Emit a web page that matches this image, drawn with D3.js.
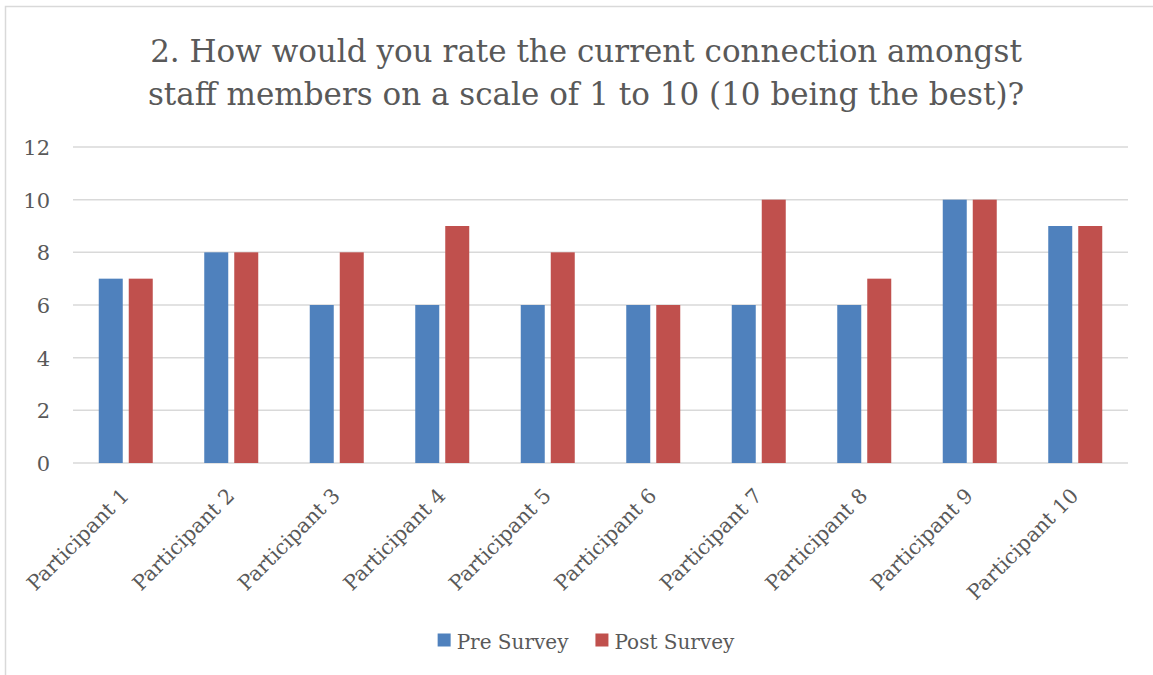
<!DOCTYPE html>
<html>
<head>
<meta charset="utf-8">
<script src="https://cdn.jsdelivr.net/npm/d3@7"></script>
<style>
  html, body { margin: 0; padding: 0; background: #fff; }
  svg { display: block; }
  text { font-family: "DejaVu Serif", "Liberation Serif", serif; fill: #595959; }
</style>
</head>
<body>
<svg id="chart" width="1153" height="675"></svg>
<script>
// Survey responses, one value per participant
const participants = ["Participant 1", "Participant 2", "Participant 3", "Participant 4", "Participant 5",
                      "Participant 6", "Participant 7", "Participant 8", "Participant 9", "Participant 10"];
const seriesNames = ["Pre Survey", "Post Survey"];
const preSurvey  = [7, 8, 6, 6, 6, 6, 6, 6, 10, 9];
const postSurvey = [7, 8, 8, 9, 8, 6, 10, 7, 10, 9];
const yTicks = [0, 2, 4, 6, 8, 10, 12];
const titleLines = ["2. How would you rate the current connection amongst",
                    "staff members on a scale of 1 to 10 (10 being the best)?"];
const colors = ["#4F81BD", "#C0504D"];

const svg = d3.select("#chart");
const cx = 586;
const margin = { left: 73, right: 1128, top: 147, bottom: 463 };

// chart frame
svg.append("rect")
  .attr("x", 5.5).attr("y", 6.5)
  .attr("width", 1170).attr("height", 690)
  .attr("fill", "#fff").attr("stroke", "#d9d9d9").attr("stroke-width", 1.5);

// title, sized so the first line spans its intended width
const title = svg.append("g");
const titleEls = titleLines.map((t, i) =>
  title.append("text")
    .attr("x", cx).attr("y", 62 + i * 43)
    .attr("text-anchor", "middle")
    .style("font-size", "30px")
    .text(t));
const w0 = titleEls[0].node().getComputedTextLength();
const titleSize = 30 * 872 / w0;
titleEls.forEach(e => e.style("font-size", titleSize + "px"));

// scales
const x0 = d3.scaleBand().domain(participants).range([margin.left, margin.right]).padding(0);
const x1 = d3.scaleBand().domain(seriesNames).range([-27, 27]).paddingInner(0.2).paddingOuter(0);
const y = d3.scaleLinear().domain([0, 12]).range([margin.bottom, margin.top]);

// gridlines
svg.append("g")
  .selectAll("line")
  .data(yTicks)
  .join("line")
  .attr("x1", margin.left).attr("x2", margin.right)
  .attr("y1", d => y(d)).attr("y2", d => y(d))
  .attr("stroke", "#d9d9d9").attr("stroke-width", 1.5);

// y axis labels
const yAxis = svg.append("g")
  .attr("transform", `translate(50,0)`)
  .call(d3.axisLeft(y).tickValues(yTicks).tickSize(0).tickPadding(0));
yAxis.select(".domain").remove();
yAxis.selectAll("text")
  .attr("dy", "0.36em")
  .style("font-family", '"DejaVu Serif", serif')
  .style("font-size", "21px")
  .attr("fill", "#595959");

// bars
const rows = participants.map((p, i) => ({ p, values: [preSurvey[i], postSurvey[i]] }));
const groups = svg.append("g")
  .selectAll("g")
  .data(rows)
  .join("g")
  .attr("transform", d => `translate(${x0(d.p) + x0.bandwidth() / 2},0)`);
groups.selectAll("rect")
  .data(d => d.values.map((v, j) => ({ s: seriesNames[j], v, j })))
  .join("rect")
  .attr("x", d => x1(d.s))
  .attr("width", x1.bandwidth())
  .attr("y", d => y(d.v))
  .attr("height", d => y(0) - y(d.v))
  .attr("fill", d => colors[d.j]);

// category labels, rotated
const xAxis = svg.append("g")
  .attr("transform", `translate(0,${margin.bottom})`)
  .call(d3.axisBottom(x0).tickSize(0).tickPadding(0));
xAxis.select(".domain").remove();
xAxis.selectAll("text")
  .attr("text-anchor", "end")
  .attr("dy", 0)
  .attr("y", 0)
  .attr("transform", "translate(4.5,34) rotate(-45)")
  .style("font-family", '"DejaVu Serif", serif')
  .style("font-size", "20.5px")
  .attr("fill", "#595959");

// legend
const legend = svg.append("g");
const items = seriesNames.map((name, i) => {
  const g = legend.append("g");
  g.append("rect").attr("x", 0).attr("y", -15.5).attr("width", 13).attr("height", 13).attr("fill", colors[i]);
  const t = g.append("text").attr("x", 19).attr("y", 0).style("font-size", "20px").text(name);
  return { g, w: 19 + t.node().getComputedTextLength() };
});
const gap = 27;
const total = d3.sum(items, d => d.w) + gap * (items.length - 1);
let lx = cx - total / 2;
items.forEach(it => {
  it.g.attr("transform", `translate(${lx},649)`);
  lx += it.w + gap;
});
</script>
</body>
</html>
